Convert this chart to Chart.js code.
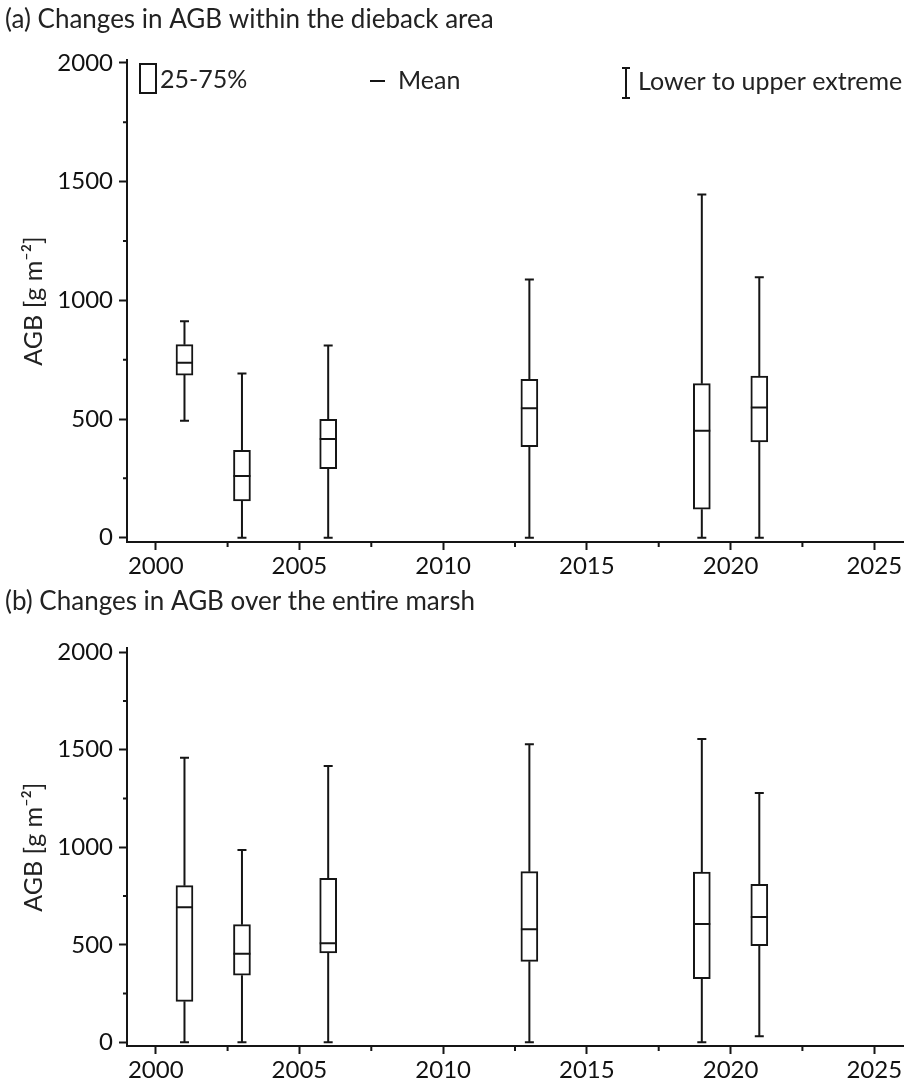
<!DOCTYPE html>
<html>
<head>
<meta charset="utf-8">
<script src="https://cdn.jsdelivr.net/npm/chart.js"></script>
<style>
body { margin:0; background:#fff; }
#wrapA { position:absolute; left:0; top:0; }
#wrapB { position:absolute; left:0; top:580px; }
</style>
</head>
<body>
<div id="wrapA"><canvas id="chartA" width="921" height="580"></canvas></div>
<div id="wrapB"><canvas id="chartB" width="921" height="502"></canvas></div>
<script>

/* DATA */

const years = [2001, 2003, 2006, 2013, 2019, 2021];

// (a) dieback area
const aMin    = [493,   0,   0,    0,    0,    0];
const aQ1     = [685, 155, 291,  383,  120,  403];
const aMean   = [737, 260, 416,  545,  451,  548];
const aQ3     = [813, 368, 499,  667,  649,  681];
const aMax    = [912, 692, 810, 1088, 1446, 1097];

// (b) entire marsh
const bMin    = [   0,   0,    0,    0,    0,   31];
const bQ1     = [ 210, 344,  458,  415,  326,  495];
const bMean   = [ 692, 454,  508,  579,  607,  643];
const bQ3     = [ 803, 603,  841,  875,  873,  810];
const bMax    = [1459, 986, 1417, 1528, 1555, 1278];

const xTicks = [2000, 2005, 2010, 2015, 2020, 2025];
const xMinorTicks = [2002.5, 2007.5, 2012.5, 2017.5, 2022.5];
const yTicks = [0, 500, 1000, 1500, 2000];
const yMinorTicks = [250, 750, 1250, 1750];

const FONT = "Lato, 'Open Sans', sans-serif";
const INK = "#151515";


/* whiskers, mean line and minor ticks */

const boxExtras = {
  id: "boxExtras",
  afterDatasetsDraw(chart, args, opts) {
    const ctx = chart.ctx;
    const xs = chart.scales.x, ys = chart.scales.y;
    const half = 8.5, cap = 4.5;
    ctx.save();
    ctx.strokeStyle = INK;
    ctx.lineWidth = 2;
    opts.years.forEach((yr, i) => {
      const x = xs.getPixelForValue(yr);
      const pMin = ys.getPixelForValue(opts.min[i]);
      const pQ1 = ys.getPixelForValue(opts.q1[i]);
      const pQ3 = ys.getPixelForValue(opts.q3[i]);
      const pMax = ys.getPixelForValue(opts.max[i]);
      const pMean = ys.getPixelForValue(opts.mean[i]);
      ctx.beginPath();
      ctx.moveTo(x, pQ1); ctx.lineTo(x, pMin);
      ctx.moveTo(x, pQ3); ctx.lineTo(x, pMax);
      ctx.moveTo(x - cap, pMin); ctx.lineTo(x + cap, pMin);
      ctx.moveTo(x - cap, pMax); ctx.lineTo(x + cap, pMax);
      ctx.moveTo(x - half, pMean); ctx.lineTo(x + half, pMean);
      ctx.stroke();
    });
    ctx.restore();
  },
  afterDraw(chart) {
    const ctx = chart.ctx;
    const xs = chart.scales.x, ys = chart.scales.y;
    const area = chart.chartArea;
    ctx.save();
    ctx.strokeStyle = INK;
    ctx.lineWidth = 2;
    ctx.beginPath();
    xMinorTicks.forEach(v => {
      const x = xs.getPixelForValue(v);
      ctx.moveTo(x, area.bottom);
      ctx.lineTo(x, area.bottom + 5);
    });
    yMinorTicks.forEach(v => {
      const y = ys.getPixelForValue(v);
      ctx.moveTo(area.left, y);
      ctx.lineTo(area.left - 4, y);
    });
    ctx.stroke();
    ctx.restore();
  }
};


/* legend of panel (a) */

const boxLegend = {
  id: "boxLegend",
  afterDraw(chart, args, opts) {
    if (!opts.show) return;
    const ctx = chart.ctx;
    ctx.save();
    ctx.strokeStyle = INK;
    ctx.fillStyle = "#222";
    ctx.lineWidth = 2;
    ctx.strokeRect(140, 64, 16, 29);
    ctx.beginPath();
    ctx.moveTo(370, 81); ctx.lineTo(385, 81);
    ctx.moveTo(626, 68); ctx.lineTo(626, 98);
    ctx.moveTo(622, 68); ctx.lineTo(630, 68);
    ctx.moveTo(622, 98); ctx.lineTo(630, 98);
    ctx.stroke();
    ctx.font = "25px " + FONT;
    ctx.textBaseline = "middle";
    ctx.fillText("25-75%", 160, 80);
    ctx.fillText("Mean", 398, 81);
    ctx.fillText("Lower to upper extreme", 638, 82);
    ctx.restore();
  }
};


function makeChart(id, title, min, q1, mean, q3, max, yMin, yMax, opt) {

  const ctx = document.getElementById(id);

  return new Chart(ctx, {

    type: "bar",

    data: {
      datasets: [{
        label: "25-75%",
        data: years.map((yr, i) => ({ x: yr, y: [q1[i], q3[i]] })),
        backgroundColor: "#ffffff",
        borderColor: INK,
        borderWidth: 2,
        borderSkipped: false,
        barThickness: 17
      }]
    },

    options: {
      responsive: false,
      maintainAspectRatio: false,
      animation: false,
      events: [],
      layout: { padding: { left: 5, right: 18, top: 0, bottom: 0 } },
      plugins: {
        legend: { display: false },
        tooltip: { enabled: false },
        title: {
          display: true,
          text: title,
          align: "start",
          color: "#222",
          font: { family: FONT, size: 26, weight: "normal", lineHeight: 1.2 },
          padding: { top: opt.titleTop, bottom: opt.titleBottom }
        },
        boxExtras: { years: years, min: min, q1: q1, mean: mean, q3: q3, max: max },
        boxLegend: { show: opt.legend }
      },
      scales: {
        x: {
          type: "linear",
          min: 1999,
          max: 2026,
          offset: false,
          afterBuildTicks: s => { s.ticks = xTicks.map(v => ({ value: v })); },
          afterFit: s => { s.height = opt.xHeight; },
          ticks: {
            callback: v => String(v),
            color: "#111",
            font: { family: FONT, size: 24 },
            padding: 2,
            maxRotation: 0,
            autoSkip: false
          },
          grid: { offset: false, drawOnChartArea: false, drawTicks: true, tickLength: 8, tickWidth: 2, tickColor: INK },
          border: { display: true, color: INK, width: 2 }
        },
        y: {
          min: yMin,
          max: yMax,
          afterBuildTicks: s => { s.ticks = yTicks.map(v => ({ value: v })); },
          afterFit: s => { s.width = 122; },
          ticks: {
            callback: v => String(v),
            color: "#111",
            font: { family: FONT, size: 24 },
            padding: 6,
            autoSkip: false
          },
          grid: { drawOnChartArea: false, drawTicks: true, tickLength: 8, tickWidth: 2, tickColor: INK },
          border: { display: true, color: INK, width: 2 },
          title: {
            display: true,
            text: "AGB [g m\u207B\u00B2]",
            color: "#222",
            font: { family: FONT, size: 25 },
            padding: { top: 14, bottom: 0 }
          }
        }
      }
    },

    plugins: [boxExtras, boxLegend]

  });

}

makeChart("chartA", "(a) Changes in AGB within the dieback area",
  aMin, aQ1, aMean, aQ3, aMax, -18, 2012,
  { titleTop: 4.4, titleBottom: 24.4, xHeight: 38, legend: true });

makeChart("chartB", "(b) Changes in AGB over the entire marsh",
  bMin, bQ1, bMean, bQ3, bMax, -19, 2020,
  { titleTop: 6.4, titleBottom: 30.7, xHeight: 36, legend: false });

</script>
</body>
</html>
